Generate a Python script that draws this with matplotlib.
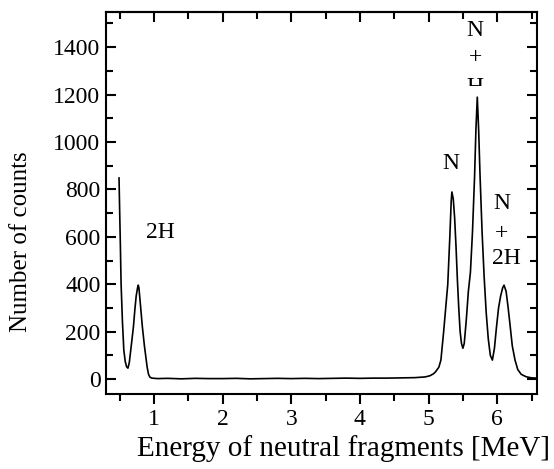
import numpy as np
import matplotlib
matplotlib.use('Agg')
import matplotlib.pyplot as plt
from matplotlib.transforms import Bbox, TransformedBbox

plt.rcParams['font.family'] = ['Liberation Serif', 'DejaVu Serif']

#spectrum: energy [MeV] and counts
energy = [0.49, 0.50, 0.51, 0.52, 0.54, 0.56, 0.58, 0.60, 0.62, 0.64, 0.66, 0.68,
          0.70, 0.72, 0.74, 0.76, 0.77, 0.78, 0.80, 0.83, 0.86, 0.88, 0.90, 0.92,
          0.94, 0.97, 1.05, 1.2, 1.4, 1.6, 1.8, 2.0, 2.2, 2.4, 2.6, 2.8, 3.0, 3.2,
          3.4, 3.6, 3.8, 4.0, 4.2, 4.4, 4.6, 4.8, 4.95, 5.02, 5.07, 5.10, 5.15,
          5.18, 5.22, 5.25, 5.28, 5.31, 5.33, 5.34, 5.36, 5.38, 5.40, 5.42, 5.44,
          5.46, 5.48, 5.50, 5.52, 5.55, 5.58, 5.61, 5.64, 5.67, 5.69, 5.71, 5.73,
          5.75, 5.78, 5.81, 5.84, 5.87, 5.90, 5.93, 5.96, 5.99, 6.02, 6.05, 6.08,
          6.10, 6.13, 6.16, 6.19, 6.22, 6.26, 6.30, 6.35, 6.42, 6.50, 6.58]
counts = [848, 700, 560, 403, 240, 122, 75, 52, 46, 70, 120, 170,
          221, 290, 350, 385, 396, 385, 320, 221, 140, 95, 50, 20,
          8, 4, 2, 3, 1, 3, 2, 2, 3, 1, 2, 3, 2, 3,
          2, 3, 4, 3, 4, 4, 5, 6, 9, 14, 22, 30, 50,
          80, 200, 300, 400, 600, 750, 789, 760, 680, 560, 420, 300,
          200, 150, 130, 150, 250, 370, 450, 620, 850, 1050, 1189, 1050,
          860, 620, 431, 280, 170, 100, 80, 130, 220, 300, 350, 385,
          396, 370, 300, 221, 140, 80, 40, 20, 10, 5, 4]

x_ticks = [1, 2, 3, 4, 5, 6]
y_ticks = [0, 200, 400, 600, 800, 1000, 1200, 1400]
x_minor = [0.5, 1.5, 2.5, 3.5, 4.5, 5.5, 6.5]
y_minor = [100, 300, 500, 700, 900, 1100, 1300, 1500]

fig = plt.figure(figsize=(5.54, 4.69), dpi=100)
ax = fig.add_axes([0.1913, 0.1599, 0.7780, 0.8145])

ax.plot(energy, counts, color='black', lw=1.2, zorder=4)

ax.set_xlim(0.30, 6.58)
ax.set_ylim(-63, 1548)
ax.set_xticks(x_ticks)
ax.set_yticks(y_ticks)
ax.set_xticks(x_minor, minor=True)
ax.set_yticks(y_minor, minor=True)

for s in ax.spines.values():
    s.set_linewidth(1.5)

#left/right ticks inward, bottom ticks outward
ax.tick_params(axis='y', which='both', direction='in', left=True, right=True, width=1.5)
ax.tick_params(axis='x', which='both', direction='out', bottom=True, top=False, width=1.5)
ax.tick_params(which='major', length=7)
ax.tick_params(which='minor', length=5)
ax.tick_params(axis='both', labelsize=17)
ax.tick_params(axis='y', pad=4)
ax.tick_params(axis='x', pad=4)

#top ticks point inward
top = ax.secondary_xaxis('top')
top.set_xticks(x_ticks)
top.set_xticks(x_minor, minor=True)
top.tick_params(which='both', direction='in', labeltop=False, width=1.5)
top.tick_params(which='major', length=7)
top.tick_params(which='minor', length=5)
top.spines['top'].set_linewidth(1.5)

ax.set_xlabel('Energy of neutral fragments [MeV]', fontsize=21)
ax.xaxis.set_label_coords(0.55, -0.108)
ax.set_ylabel('Number of counts', fontsize=18)
ax.yaxis.set_label_coords(-0.172, 0.40)

#peak labels
fs = 17
ax.text(1.09, 620, '2H', fontsize=fs, ha='center', va='center')
ax.text(5.33, 911, 'N', fontsize=fs, ha='center', va='center')
ax.text(5.68, 1472, 'N', fontsize=fs, ha='center', va='center')
ax.text(5.68, 1354, '+', fontsize=fs, ha='center', va='center')
#the H under N+ is cut off in the original
h = ax.text(5.68, 1208, 'H', fontsize=fs, ha='center', va='baseline')
h.set_clip_on(True)
h.set_clip_box(TransformedBbox(Bbox([[5.4, 1236], [6.0, 1600]]), ax.transData))
ax.text(6.07, 742, 'N', fontsize=fs, ha='center', va='center')
ax.text(6.07, 612, '+', fontsize=fs, ha='center', va='center')
ax.text(6.13, 510, '2H', fontsize=fs, ha='center', va='center')

fig.savefig('out.png', dpi=100)
